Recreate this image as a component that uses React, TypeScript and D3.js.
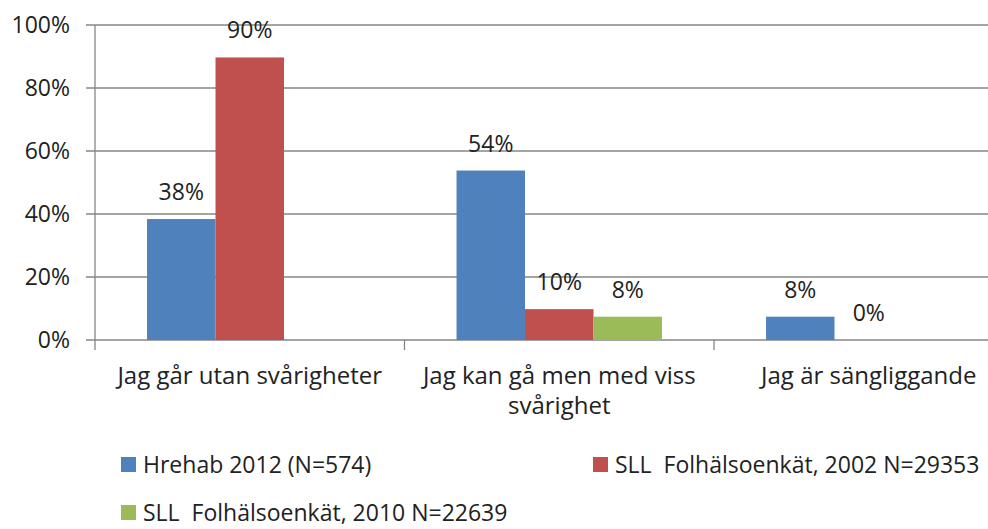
import React, { useEffect, useRef } from "react";
import * as d3 from "d3";

const categories = ["Jag går utan svårigheter", "Jag kan gå men med viss svårighet", "Jag är sängliggande"];
const seriesNames = ["Hrehab 2012 (N=574)", "SLL  Folhälsoenkät, 2002 N=29353", "SLL  Folhälsoenkät, 2010 N=22639"];
const hrehab = [38.4, 53.8, 7.4];
const sll2002 = [89.7, 9.8, 0];
const sll2010: (number | null)[] = [null, 7.4, null];
const labels2002 = ["90%", "10%", "0%"];
const labelsHrehab = ["38%", "54%", "8%"];
const labels2010 = [null, "8%", null];
const yTicks = [0, 20, 40, 60, 80, 100];
const colors = ["#4F81BD", "#C0504D", "#9BBB59"];

const W = 988, H = 529;
const FONT = "'Open Sans', sans-serif";

export default function App() {
  const ref = useRef<SVGSVGElement>(null);
  useEffect(() => {
    const svg = d3.select(ref.current);
    svg.selectAll("*").remove();
    const x0 = 95, y0 = 340, yTop = 25, groupW = 309.5;
    const x = d3.scaleBand<string>().domain(categories).range([x0, x0 + groupW * 3]).padding(0);
    const xs = d3.scaleBand<number>().domain([0, 1, 2]).range([0, x.bandwidth()]).paddingInner(0).paddingOuter(0.76);
    const y = d3.scaleLinear().domain([0, 100]).range([y0, yTop]);

    // gridlines
    svg.append("g").selectAll("line").data(yTicks).join("line")
      .attr("x1", x0 - 9).attr("x2", W)
      .attr("y1", d => y(d)).attr("y2", d => y(d))
      .attr("stroke", "#868686").attr("stroke-width", 1.3);
    svg.append("g").selectAll("text").data(yTicks).join("text")
      .attr("x", 70).attr("y", d => y(d)).attr("dy", "0.35em")
      .attr("text-anchor", "end").attr("font-family", FONT).attr("font-size", 23).attr("fill", "#222")
      .text(d => d + "%");
    // y axis
    svg.append("line").attr("x1", x0).attr("x2", x0).attr("y1", yTop).attr("y2", y0 + 10)
      .attr("stroke", "#868686").attr("stroke-width", 1.3);
    // category ticks
    svg.append("g").selectAll("line").data(categories.slice(1)).join("line")
      .attr("x1", d => x(d)!).attr("x2", d => x(d)!).attr("y1", y0).attr("y2", y0 + 10)
      .attr("stroke", "#868686").attr("stroke-width", 1.3);

    const series = [hrehab, sll2002, sll2010];
    const lbls = [labelsHrehab, labels2002, labels2010];
    series.forEach((vals, si) => {
      const g = svg.append("g");
      categories.forEach((c, ci) => {
        const v = vals[ci];
        if (v === null || v === undefined) return;
        const bx = x(c)! + xs(si)!;
        g.append("rect").attr("x", bx).attr("width", xs.bandwidth())
          .attr("y", y(v)).attr("height", y0 - y(v)).attr("fill", colors[si]);
        const t = lbls[si][ci];
        if (t) {
          g.append("text").attr("x", bx + xs.bandwidth() / 2).attr("y", y(v) - 19)
            .attr("text-anchor", "middle").attr("font-family", FONT).attr("font-size", 23).attr("fill", "#222")
            .text(t);
        }
      });
    });

    // category labels
    categories.forEach(c => {
      const words = c.split(" ");
      const lines: string[] = [];
      let cur = "";
      words.forEach(w => {
        const test = cur ? cur + " " + w : w;
        if (test.length > 25 && cur) { lines.push(cur); cur = w; } else cur = test;
      });
      lines.push(cur);
      const t = svg.append("text").attr("text-anchor", "middle").attr("font-family", FONT)
        .attr("font-size", 24).attr("fill", "#222");
      lines.forEach((l, i) => {
        t.append("tspan").attr("x", x(c)! + x.bandwidth() / 2).attr("y", 384 + i * 30).text(l);
      });
    });

    // legend
    const legendPos = [[121, 464.5], [593, 464.5], [121, 512.5]];
    seriesNames.forEach((n, i) => {
      const [lx, ly] = legendPos[i];
      svg.append("rect").attr("x", lx).attr("y", ly - 7.5).attr("width", 15).attr("height", 15).attr("fill", colors[i]);
      svg.append("text").attr("x", lx + 22).attr("y", ly).attr("dy", "0.35em")
        .style("white-space", "pre")
        .attr("font-family", FONT).attr("font-size", 23).attr("fill", "#222").text(n);
    });
  }, []);
  return (
    <div style={{ position: "fixed", left: 0, top: 0 }}>
      <svg ref={ref} width={W} height={H} style={{ display: "block", background: "#fff" }} />
    </div>
  );
}
